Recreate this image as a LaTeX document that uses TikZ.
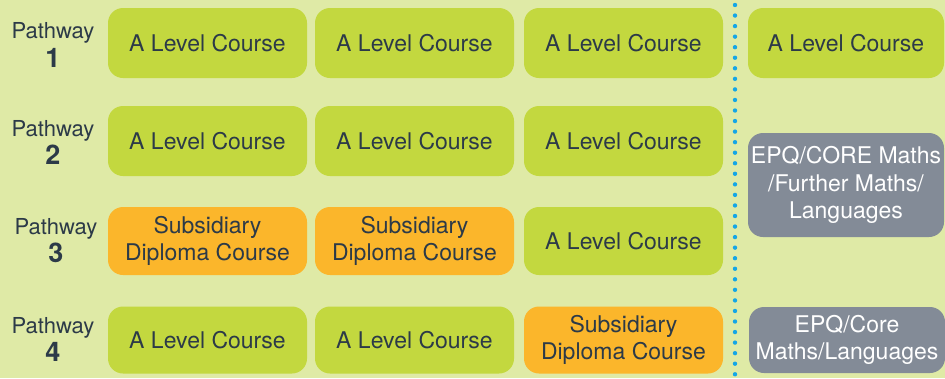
\documentclass[tikz,border=0pt]{standalone}
\usepackage{fontspec}
\usetikzlibrary{calc}
\setmainfont{TeX Gyre Heros}
\definecolor{bgc}{HTML}{DFEAA6}
\definecolor{greenc}{HTML}{C3D83F}
\definecolor{orangec}{HTML}{FBB62B}
\definecolor{grayc}{HTML}{838B97}
\definecolor{textc}{HTML}{2C3A48}
\definecolor{dotc}{HTML}{14A6E6}
\tikzset{
  course/.style={rounded corners=15pt, minimum width=199pt, inner sep=0pt, align=center,
    text=textc, font=\fontsize{23}{27.5}\selectfont},
  alevel/.style={course, fill=greenc, minimum height=70pt},
  subsid/.style={course, fill=orangec, minimum height=68pt},
  extra/.style={course, fill=grayc, text=white, minimum width=196pt},
  pathword/.style={text=textc, inner sep=0pt, font=\fontsize{22}{25}\selectfont},
  pathnum/.style={text=textc, inner sep=0pt, font=\bfseries\fontsize{27}{30}\selectfont},
}
\begin{document}
\begin{tikzpicture}[x=1pt,y=-1pt]
\fill[bgc] (0,0) rectangle (945,378);
\useasboundingbox (0,0) rectangle (945,378);
% pathway labels
\node[pathword] (w1) at (53,33) {Pathway};
\node[pathnum] (n1) at (53,58) {1};
\node[pathword] (w2) at (53,131) {Pathway};
\node[pathnum] (n2) at (53,155) {2};
\node[pathword] (w3) at (56,229) {Pathway};
\node[pathnum] (n3) at (56,253) {3};
\node[pathword] (w4) at (53,328) {Pathway};
\node[pathnum] (n4) at (53,352) {4};
% row 1
\node[alevel] (a11) at (207.5,43) {A Level Course};
\node[alevel] (a12) at (414.5,43) {A Level Course};
\node[alevel] (a13) at (623.5,43) {A Level Course};
\node[alevel, minimum width=196pt] (a14) at (846,43) {A Level Course};
% row 2
\node[alevel] (a21) at (207.5,141) {A Level Course};
\node[alevel] (a22) at (414.5,141) {A Level Course};
\node[alevel] (a23) at (623.5,141) {A Level Course};
% row 3
\node[subsid] (a31) at (207.5,241) {Subsidiary\\Diploma Course};
\node[subsid] (a32) at (414.5,241) {Subsidiary\\Diploma Course};
\node[alevel, minimum height=68pt] (a33) at (623.5,241) {A Level Course};
% row 4
\node[alevel, minimum height=67pt] (a41) at (207.5,340) {A Level Course};
\node[alevel, minimum height=67pt] (a42) at (414.5,340) {A Level Course};
\node[subsid, minimum height=67pt] (a43) at (623.5,340) {Subsidiary\\Diploma Course};
% extra column
\node[extra, minimum height=104pt] (e1) at (846,185) {EPQ/CORE Maths\\/Further Maths/\\Languages};
\node[extra, minimum height=66pt] (e2) at (847,340) {EPQ/Core\\Maths/Languages};
% dotted separator
\coordinate (dtop) at (735,5);
\foreach \i in {0,...,35} {
  \fill[dotc] ($(dtop)+(0,10.55*\i)$) circle (2.2pt);
}
\end{tikzpicture}
\end{document}
